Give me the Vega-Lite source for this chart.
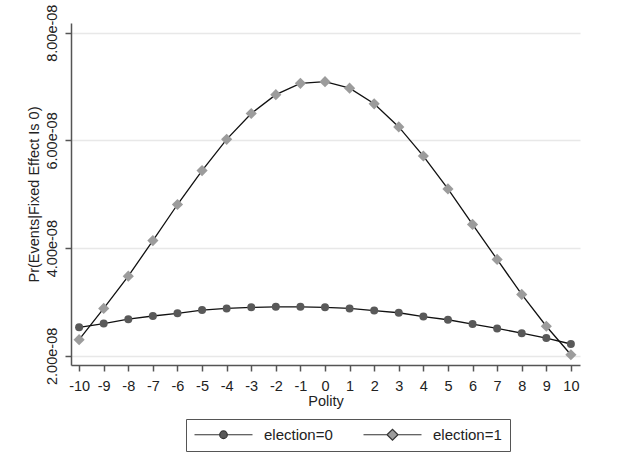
{
  "$schema": "https://vega.github.io/schema/vega-lite/v6.json",
  "autosize": "none",
  "width": 509,
  "height": 342,
  "padding": {"left": 71, "top": 23, "right": 52, "bottom": 104},
  "background": "white",
  "config": {
    "font": "Liberation Sans",
    "view": {"stroke": null},
    "axis": {"labelFont": "Liberation Sans", "titleFont": "Liberation Sans", "labelColor": "#222", "titleColor": "#222", "titleFontWeight": "normal", "labelFontSize": 14.5, "titleFontSize": 14.5, "domainColor": "#555", "tickColor": "#555", "domainWidth": 1.5, "tickWidth": 1.5}
  },
  "data": {
    "values": [
      {"polity": -10, "series": "election=0", "pr": 2.53e-8},
      {"polity": -9, "series": "election=0", "pr": 2.60e-8},
      {"polity": -8, "series": "election=0", "pr": 2.68e-8},
      {"polity": -7, "series": "election=0", "pr": 2.74e-8},
      {"polity": -6, "series": "election=0", "pr": 2.79e-8},
      {"polity": -5, "series": "election=0", "pr": 2.85e-8},
      {"polity": -4, "series": "election=0", "pr": 2.88e-8},
      {"polity": -3, "series": "election=0", "pr": 2.90e-8},
      {"polity": -2, "series": "election=0", "pr": 2.91e-8},
      {"polity": -1, "series": "election=0", "pr": 2.91e-8},
      {"polity": 0, "series": "election=0", "pr": 2.90e-8},
      {"polity": 1, "series": "election=0", "pr": 2.88e-8},
      {"polity": 2, "series": "election=0", "pr": 2.84e-8},
      {"polity": 3, "series": "election=0", "pr": 2.80e-8},
      {"polity": 4, "series": "election=0", "pr": 2.73e-8},
      {"polity": 5, "series": "election=0", "pr": 2.67e-8},
      {"polity": 6, "series": "election=0", "pr": 2.59e-8},
      {"polity": 7, "series": "election=0", "pr": 2.51e-8},
      {"polity": 8, "series": "election=0", "pr": 2.42e-8},
      {"polity": 9, "series": "election=0", "pr": 2.33e-8},
      {"polity": 10, "series": "election=0", "pr": 2.22e-8},
      {"polity": -10, "series": "election=1", "pr": 2.30e-8},
      {"polity": -9, "series": "election=1", "pr": 2.88e-8},
      {"polity": -8, "series": "election=1", "pr": 3.48e-8},
      {"polity": -7, "series": "election=1", "pr": 4.14e-8},
      {"polity": -6, "series": "election=1", "pr": 4.81e-8},
      {"polity": -5, "series": "election=1", "pr": 5.44e-8},
      {"polity": -4, "series": "election=1", "pr": 6.02e-8},
      {"polity": -3, "series": "election=1", "pr": 6.50e-8},
      {"polity": -2, "series": "election=1", "pr": 6.85e-8},
      {"polity": -1, "series": "election=1", "pr": 7.06e-8},
      {"polity": 0, "series": "election=1", "pr": 7.09e-8},
      {"polity": 1, "series": "election=1", "pr": 6.97e-8},
      {"polity": 2, "series": "election=1", "pr": 6.68e-8},
      {"polity": 3, "series": "election=1", "pr": 6.25e-8},
      {"polity": 4, "series": "election=1", "pr": 5.71e-8},
      {"polity": 5, "series": "election=1", "pr": 5.10e-8},
      {"polity": 6, "series": "election=1", "pr": 4.44e-8},
      {"polity": 7, "series": "election=1", "pr": 3.79e-8},
      {"polity": 8, "series": "election=1", "pr": 3.14e-8},
      {"polity": 9, "series": "election=1", "pr": 2.55e-8},
      {"polity": 10, "series": "election=1", "pr": 2.02e-8}
    ]
  },
  "encoding": {
    "x": {
      "field": "polity", "type": "quantitative",
      "scale": {"domain": [-10.33, 10.37], "nice": false, "zero": false},
      "axis": {"title": "Polity", "values": [-10,-9,-8,-7,-6,-5,-4,-3,-2,-1,0,1,2,3,4,5,6,7,8,9,10], "labelExpr": "'' + datum.value", "grid": false, "tickSize": 6, "labelPadding": 8, "titlePadding": 2, "labelFlush": false, "labelOverlap": false}
    },
    "y": {
      "field": "pr", "type": "quantitative",
      "scale": {"domain": [1.83e-8, 8.18e-8], "nice": false, "zero": false},
      "axis": {
        "title": "Pr(Events|Fixed Effect Is 0)",
        "values": [2e-8, 4e-8, 6e-8, 8e-8],
        "labelExpr": "replace(format(datum.value, '.2e'), 'e-8', 'e-08')",
        "labelAngle": 270, "labelAlign": "center", "labelBaseline": "bottom",
        "labelPadding": 6, "tickSize": 6, "titlePadding": 3,
        "grid": true, "gridColor": "#e8e8e8", "gridWidth": 1.5,
        "labelFlush": false, "labelOverlap": false
      }
    }
  },
  "layer": [
    {
      "transform": [{"filter": "false"}],
      "mark": {"type": "point", "filled": true, "opacity": 1, "stroke": "#333", "strokeWidth": 1.2},
      "encoding": {
        "fill": {
          "field": "series", "type": "nominal",
          "scale": {"domain": ["election=0", "election=1"], "range": ["#595959", "#9c9c9c"]},
          "legend": {
            "title": null, "orient": "none", "legendX": 115, "legendY": 396,
            "direction": "horizontal", "columns": 2,
            "strokeColor": "#555", "fillColor": "white", "padding": 8,
            "symbolSize": 100, "symbolOffset": 22, "labelOffset": 33,
            "columnPadding": 28,
            "symbolStrokeColor": "#333", "symbolStrokeWidth": 1.2,
            "labelFont": "Liberation Sans", "labelFontSize": 15, "labelColor": "#222"
          }
        },
        "shape": {
          "field": "series", "type": "nominal",
          "scale": {"domain": ["election=0", "election=1"], "range": ["M-5.8,0H-0.7M0.7,0H5.8M-0.76,0A0.76,0.76,0,1,0,0.76,0A0.76,0.76,0,1,0,-0.76,0Z", "M-5.8,0H-1.05M1.05,0H5.8M-1.1,0L0,-1.1L1.1,0L0,1.1Z"]}
        }
      }
    },
    {
      "mark": {"type": "line", "color": "#111", "strokeWidth": 1.3},
      "encoding": {"detail": {"field": "series"}}
    },
    {
      "transform": [{"filter": "datum.series === 'election=0'"}],
      "mark": {"type": "point", "filled": true, "opacity": 1, "size": 64, "shape": "circle"},
      "encoding": {
        "fill": {"field": "series", "type": "nominal"}
      }
    },
    {
      "transform": [{"filter": "datum.series === 'election=1'"}],
      "mark": {"type": "point", "filled": true, "opacity": 1, "size": 125, "shape": "diamond"},
      "encoding": {
        "fill": {"field": "series", "type": "nominal"}
      }
    }
  ]
}
